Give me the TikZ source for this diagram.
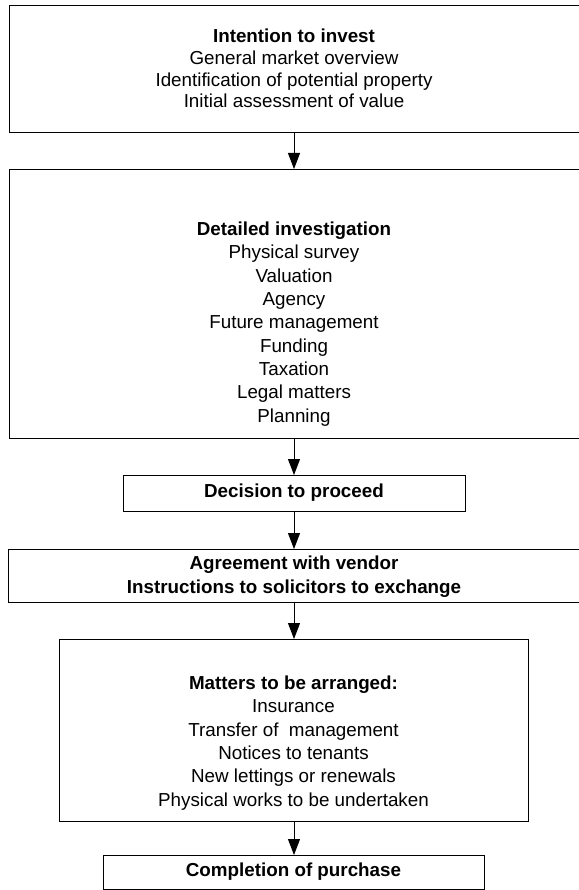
\documentclass[tikz,border=0pt]{standalone}
\usepackage{fontspec}
\setmainfont{Liberation Sans}
\usetikzlibrary{arrows.meta}

\begin{document}
\begin{tikzpicture}[
  x=1pt, y=-1pt,
  box/.style={draw, line width=0.9pt, inner sep=0pt, outer sep=0pt, align=center,
              font=\fontsize{18.8}{21}\selectfont},
  txt/.style={inner sep=0pt, align=center, font=\fontsize{18.8}{23.3}\selectfont},
  arr/.style={line width=0.9pt, -{Triangle[width=12pt, length=16pt]}}
]
% page frame
\fill[white] (0,0) rectangle (578,890);
\useasboundingbox (0,0) rectangle (578,890);

% vertical axis shared by all connectors
\coordinate (axis) at (294,0);

% boxes
\node[box, minimum width=591pt, minimum height=127pt] (b1) at (304.5,68.5) {};
\node[txt, font=\fontsize{18.8}{21.7}\selectfont] (t1) at (294,68.5) {\textbf{Intention to invest}\\General market overview\\Identification of potential property\\Initial assessment of value};

\node[box, minimum width=591pt, minimum height=269pt] (b2) at (304.5,303.5) {};
\node[txt] (t2) at (294,324) {\textbf{Detailed investigation}\\Physical survey\\Valuation\\Agency\\Future management\\Funding\\Taxation\\Legal matters\\Planning};

\node[box, minimum width=342pt, minimum height=36pt] (b3) at (294,493) {\textbf{Decision to proceed}};

\node[box, minimum width=592pt, minimum height=53pt] (b4) at (304,575.5) {};
\node[txt, font=\fontsize{18.8}{23.5}\selectfont] (t4) at (294,576.5) {\textbf{Agreement with vendor}\\\textbf{Instructions to solicitors to exchange}};

\node[box, minimum width=469pt, minimum height=182pt] (b5) at (293.5,730) {};
\node[txt] (t5) at (293.5,743) {\textbf{Matters to be arranged:}\\Insurance\\Transfer of~ management\\Notices to tenants\\New lettings or renewals\\Physical works to be undertaken};

\node[box, minimum width=381pt, minimum height=34pt] (b6) at (293.5,872) {\textbf{Completion of purchase}};

% connectors
\draw[arr] (b1.south -| axis) -- (b2.north -| axis);
\draw[arr] (b2.south -| axis) -- (b3.north -| axis);
\draw[arr] (b3.south -| axis) -- (b4.north -| axis);
\draw[arr] (b4.south -| axis) -- (b5.north -| axis);
\draw[arr] (b5.south -| axis) -- (b6.north -| axis);
\end{tikzpicture}
\end{document}
